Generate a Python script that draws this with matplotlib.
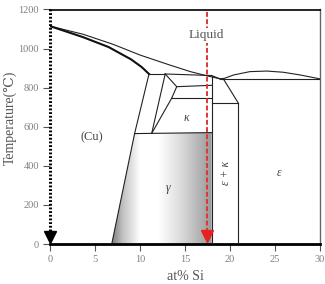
import numpy as np
import matplotlib.pyplot as plt
from matplotlib.patches import Polygon

# Cu-Si phase diagram (at% Si, deg C)
liq_x = [0, 3.7, 7.0, 10.0, 13.3, 15.6, 17.4, 18.9]
liq_t = [1115, 1073, 1022, 967, 916, 882, 861, 845]

sol_x = [0, 3.7, 6.5, 9.0, 10.2, 11.0]
sol_t = [1115, 1058, 1008, 945, 905, 870]

hump_x = [18.9, 19.4, 20.4, 22.2, 24.1, 25.9, 27.8, 30.0]
hump_t = [845, 848, 865, 882, 885, 879, 865, 845]

# straight boundaries: (x0, t0, x1, t1)
segments = [
    (11.0, 870, 12.8, 870),     # peritectic
    (12.8, 870, 17.96, 862),
    (17.96, 862, 18.9, 845),
    (18.9, 845, 30.0, 845),     # eutectic
    (11.0, 870, 9.4, 565),
    (12.8, 870, 11.3, 566),
    (12.8, 870, 14.08, 805),
    (14.08, 805, 13.52, 746),
    (13.52, 746, 11.3, 566),
    (14.08, 805, 17.96, 812),
    (13.52, 746, 17.96, 746),
    (9.4, 565, 17.96, 570),     # gamma top
    (9.4, 565, 6.86, 0),        # gamma left
    (17.96, 862, 17.96, 0),
    (19.26, 845, 20.9, 723),
    (17.96, 723, 20.9, 723),
    (20.9, 723, 20.9, 0),
]

gamma_poly = [(6.86, 0), (9.4, 565), (17.96, 570), (17.96, 0)]

labels = [("(Cu)", 4.6, 548), ("κ", 15.2, 643), ("γ", 13.1, 285), ("ε", 25.4, 362)]

xticks = [0, 5, 10, 15, 20, 25, 30]
yticks = [0, 200, 400, 600, 800, 1000, 1200]
red_x = 17.4

serif = ['Liberation Serif', 'DejaVu Serif']
gray = '#808080'

fig = plt.figure(figsize=(3.25, 2.84), dpi=100)
ax = fig.add_axes([50 / 325, 40 / 284, 270 / 325, 234.5 / 284])
ax.set_xlim(0, 30)
ax.set_ylim(0, 1200)

# shaded gamma field
gx = np.linspace(6.86, 17.96, 200)
shade = np.interp(gx, [6.86, 8.0, 10.0, 12.0, 14.5, 17.96], [0.5, 0.75, 1.0, 1.0, 0.86, 0.6])
img = ax.imshow(np.tile(shade, (2, 1)), cmap='gray', vmin=0, vmax=1, aspect='auto',
                extent=[6.86, 17.96, 0, 570], origin='lower', zorder=1)
poly = Polygon(gamma_poly, closed=True, facecolor='none', edgecolor='none')
ax.add_patch(poly)
img.set_clip_path(poly)

ax.plot(liq_x, liq_t, color='#222222', lw=0.8, zorder=3)
ax.plot(sol_x, sol_t, color='#111111', lw=1.5, zorder=3)
ax.plot(hump_x, hump_t, color='#222222', lw=0.8, zorder=3)
for x0, t0, x1, t1 in segments:
    ax.plot([x0, x1], [t0, t1], color='#222222', lw=0.8, zorder=3)

for txt, x, t in labels:
    ax.text(x, t, txt, ha='center', va='center', fontsize=9 if txt == "(Cu)" else 8.5,
            color='#444444', family=serif, style='italic' if txt != "(Cu)" else 'normal')
ax.text(19.6, 362, "ε + κ", rotation=90, ha='center', va='center', fontsize=8.5,
        color='#444444', family=serif, style='italic')

# red dashed arrow
ax.plot([red_x, red_x], [1189, 40], color='#e03535', lw=1.4, ls=(0, (2.5, 1.2)), zorder=4)
ax.plot([red_x], [40], marker='v', color='#e82020', markersize=8, zorder=5, clip_on=False)
ax.text(red_x, 1069, "Liquid", ha='center', va='center', fontsize=9.5, color='#555555',
        family=serif, zorder=6, bbox=dict(facecolor='white', edgecolor='none', pad=1))

# black dotted arrow along the left axis
ax.plot([0, 0], [1200, 40], color='black', lw=2.2, ls=(0, (0.6, 0.6)), zorder=5, clip_on=False)
ax.plot([0], [38], marker='v', color='black', markersize=8, zorder=6, clip_on=False)

ax.set_xticks(xticks)
ax.set_yticks(yticks)
ax.tick_params(direction='out', length=5, width=0.8, color='#555555', labelsize=7.5,
               labelcolor=gray, pad=3)
for lab in ax.get_xticklabels() + ax.get_yticklabels():
    lab.set_family(serif)

ax.spines['left'].set_visible(False)
ax.spines['bottom'].set_linewidth(2)
ax.spines['top'].set_linewidth(1.2)
ax.spines['right'].set_color('#666666')
ax.spines['right'].set_linewidth(1)

fig.text(10 / 325, 1 - 118 / 284, "Temperature(℃)", rotation=90, ha='center', va='center',
         fontsize=10, color='#555555', family=serif)
fig.text(185 / 325, 1 - 277 / 284, "at% Si", ha='center', va='center', fontsize=10,
         color='#555555', family=serif)

fig.savefig('out.png', dpi=100)
